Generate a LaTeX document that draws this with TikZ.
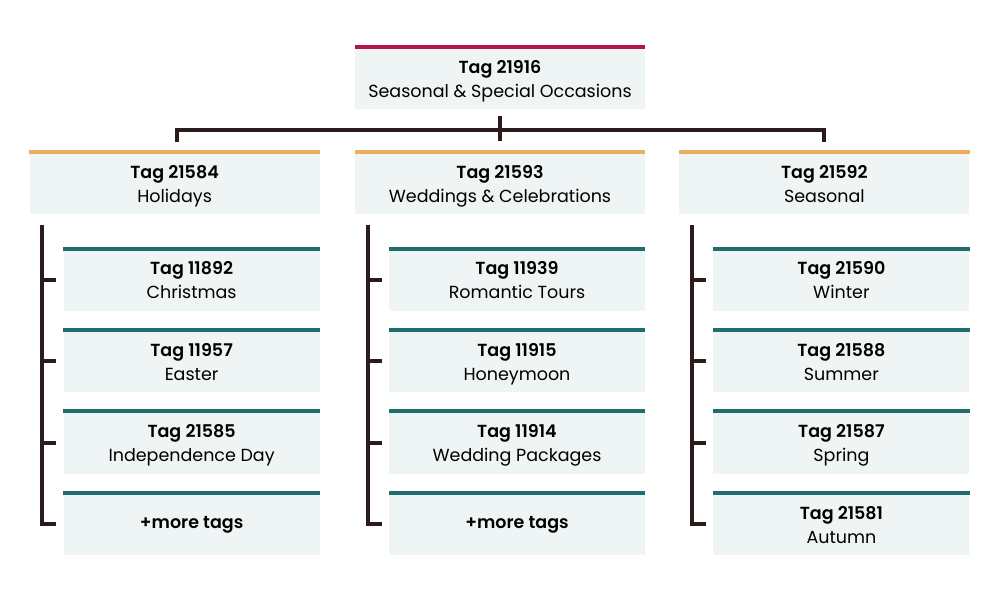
\documentclass[tikz,border=0pt]{standalone}
\usepackage{fontspec}
\setmainfont{Poppins}[BoldFont={Poppins SemiBold}]
\usepackage{tikz}
\usetikzlibrary{positioning}

\definecolor{fond}{HTML}{EEF5F4}
\definecolor{rouge}{HTML}{B3174A}
\definecolor{orange}{HTML}{EAAE5C}
\definecolor{sarcelle}{HTML}{1F6E6B}
\definecolor{trait}{HTML}{2B1B1B}

\begin{document}
\begin{tikzpicture}[x=1pt, y=1pt]
        % Style des noeuds
        \tikzstyle{tagbox} = [rectangle, fill=fond, minimum width=290pt, minimum height=62pt, inner sep=0pt, align=center, font=\fontsize{17.5}{24}\selectfont, text height=40pt, text depth=2pt]
        \tikzstyle{subbox} = [tagbox, minimum width=256pt]
        \tikzstyle{morebox} = [subbox, text height=16.8pt, text depth=7.2pt]
        \tikzstyle{bar} = [line width=4pt]
        \tikzstyle{link} = [draw=trait, line width=4pt]

        \useasboundingbox (0,0) rectangle (1000,-600);

        % Racine et niveau 1
        \node (root) [tagbox] at (500,-78) {\textbf{Tag 21916}\\Seasonal \& Special Occasions};
        \node (weddings) [tagbox, below=43pt of root] {\textbf{Tag 21593}\\Weddings \& Celebrations};
        \node (holidays) [tagbox, left=35pt of weddings] {\textbf{Tag 21584}\\Holidays};
        \node (seasonal) [tagbox, right=34pt of weddings] {\textbf{Tag 21592}\\Seasonal};

        % Holidays
        \node (christmas) [subbox, below=34pt of holidays.south east, anchor=north east] {\textbf{Tag 11892}\\Christmas};
        \node (easter) [subbox, below=19pt of christmas] {\textbf{Tag 11957}\\Easter};
        \node (independence) [subbox, below=19pt of easter] {\textbf{Tag 21585}\\Independence Day};
        \node (holimore) [morebox, below=19pt of independence] {\textbf{+more tags}};

        % Weddings
        \node (romantic) [subbox, below=34pt of weddings.south east, anchor=north east] {\textbf{Tag 11939}\\Romantic Tours};
        \node (honeymoon) [subbox, below=19pt of romantic] {\textbf{Tag 11915}\\Honeymoon};
        \node (packages) [subbox, below=19pt of honeymoon] {\textbf{Tag 11914}\\Wedding Packages};
        \node (wedmore) [morebox, below=19pt of packages] {\textbf{+more tags}};

        % Seasonal
        \node (winter) [subbox, below=34pt of seasonal.south east, anchor=north east] {\textbf{Tag 21590}\\Winter};
        \node (summer) [subbox, below=19pt of winter] {\textbf{Tag 21588}\\Summer};
        \node (spring) [subbox, below=19pt of summer] {\textbf{Tag 21587}\\Spring};
        \node (autumn) [subbox, below=19pt of spring] {\textbf{Tag 21581}\\Autumn};

        % Barres du haut
        \draw [bar, draw=rouge] (root.north west) -- (root.north east);
        \draw [bar, draw=orange] (holidays.north west) -- (holidays.north east);
        \draw [bar, draw=orange] (weddings.north west) -- (weddings.north east);
        \draw [bar, draw=orange] (seasonal.north west) -- (seasonal.north east);
        \draw [bar, draw=sarcelle] (christmas.north west) -- (christmas.north east);
        \draw [bar, draw=sarcelle] (easter.north west) -- (easter.north east);
        \draw [bar, draw=sarcelle] (independence.north west) -- (independence.north east);
        \draw [bar, draw=sarcelle] (holimore.north west) -- (holimore.north east);
        \draw [bar, draw=sarcelle] (romantic.north west) -- (romantic.north east);
        \draw [bar, draw=sarcelle] (honeymoon.north west) -- (honeymoon.north east);
        \draw [bar, draw=sarcelle] (packages.north west) -- (packages.north east);
        \draw [bar, draw=sarcelle] (wedmore.north west) -- (wedmore.north east);
        \draw [bar, draw=sarcelle] (winter.north west) -- (winter.north east);
        \draw [bar, draw=sarcelle] (summer.north west) -- (summer.north east);
        \draw [bar, draw=sarcelle] (spring.north west) -- (spring.north east);
        \draw [bar, draw=sarcelle] (autumn.north west) -- (autumn.north east);

        % Liaisons du haut
        \draw [link] ([xshift=2.5pt, yshift=10pt]holidays.north) -- ([xshift=2.5pt, yshift=22.5pt]holidays.north) -- ([yshift=22.5pt]seasonal.north) -- ([yshift=10pt]seasonal.north);
        \draw [link] ([yshift=-7pt]root.south) -- ([yshift=11pt]weddings.north);

        % Accolades
        \coordinate (hb) at ([xshift=13pt, yshift=-10pt]holidays.south west);
        \draw [link] (hb) |- ([xshift=-7pt]holimore.west);
        \draw [link] (hb |- christmas.west) -- ([xshift=-7pt]christmas.west);
        \draw [link] (hb |- easter.west) -- ([xshift=-7pt]easter.west);
        \draw [link] (hb |- independence.west) -- ([xshift=-7pt]independence.west);

        \coordinate (wb) at ([xshift=13pt, yshift=-10pt]weddings.south west);
        \draw [link] (wb) |- ([xshift=-7pt]wedmore.west);
        \draw [link] (wb |- romantic.west) -- ([xshift=-7pt]romantic.west);
        \draw [link] (wb |- honeymoon.west) -- ([xshift=-7pt]honeymoon.west);
        \draw [link] (wb |- packages.west) -- ([xshift=-7pt]packages.west);

        \coordinate (sb) at ([xshift=13pt, yshift=-10pt]seasonal.south west);
        \draw [link] (sb) |- ([xshift=-7pt]autumn.west);
        \draw [link] (sb |- winter.west) -- ([xshift=-7pt]winter.west);
        \draw [link] (sb |- summer.west) -- ([xshift=-7pt]summer.west);
        \draw [link] (sb |- spring.west) -- ([xshift=-7pt]spring.west);
    \end{tikzpicture}
\end{document}
